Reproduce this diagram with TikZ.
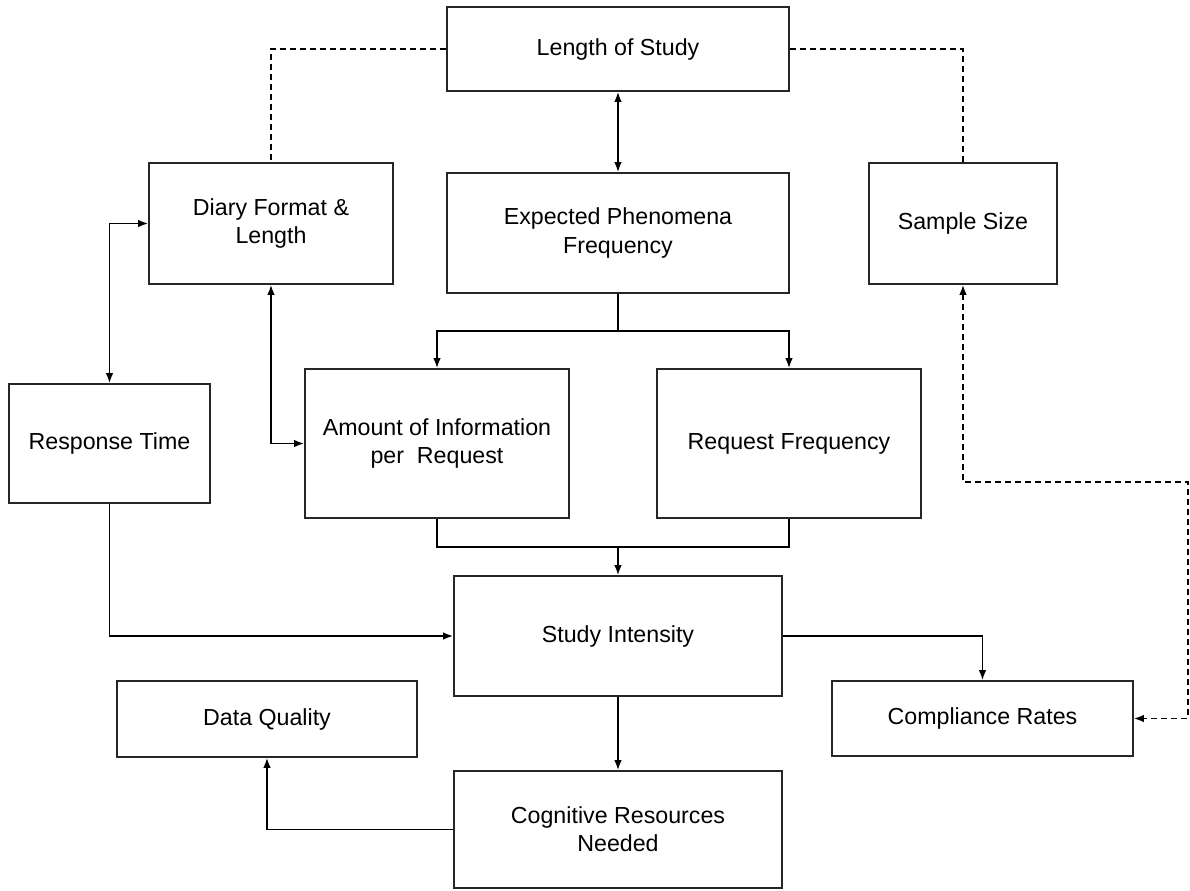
\documentclass[tikz,border=0pt]{standalone}
\usepackage{fontspec}
\setmainfont{Liberation Sans}
\usetikzlibrary{arrows.meta}

\begin{document}
\begin{tikzpicture}[x=0.01cm,y=-0.01cm,font=\fontsize{6.6}{8}\selectfont,line width=0.45pt,
  >={Latex[length=1mm,width=0.75mm]},
  box/.style={draw=black!85,align=center,inner sep=0pt},
  link/.style={dash pattern=on 0.6mm off 0.4mm}]
\useasboundingbox (0,0) rectangle (1190,890);
\node[box,minimum width=3.42cm,minimum height=0.84cm] (len) at (618,49) {Length of Study};
\node[box,minimum width=3.42cm,minimum height=1.2cm] (exp) at (618,233) {Expected Phenomena\\Frequency};
\node[box,minimum width=2.44cm,minimum height=1.21cm] (diary) at (271,223.5) {Diary Format \&\\Length};
\node[box,minimum width=1.88cm,minimum height=1.21cm] (sample) at (963,223.5) {Sample Size};
\node[box,minimum width=2.01cm,minimum height=1.19cm] (resp) at (109.5,443.5) {Response Time};
\node[box,minimum width=2.64cm,minimum height=1.49cm] (amount) at (437,443.5) {Amount of Information\\per~~Request};
\node[box,minimum width=2.64cm,minimum height=1.49cm] (req) at (789,443.5) {Request Frequency};
\node[box,minimum width=3.28cm,minimum height=1.2cm] (study) at (618,636) {Study Intensity};
\node[box,minimum width=3cm,minimum height=0.76cm] (dq) at (267,719) {Data Quality};
\node[box,minimum width=3.01cm,minimum height=0.75cm] (comp) at (982.5,718.5) {Compliance Rates};
\node[box,minimum width=3.28cm,minimum height=1.17cm] (cog) at (618,829.5) {Cognitive Resources\\Needed};
\coordinate (split) at (618,331);
\coordinate (join) at (618,547);
\coordinate (turn) at (1188,482);
\draw[<->] (len.south) -- (exp.north);
\draw[link] (len.west) -| (diary.north);
\draw[link] (len.east) -| (sample.north);
\draw[<->] (diary.west) -| (resp.north);
\draw[<->] (diary.south) |- (amount.west);
\draw (exp.south) -- (split);
\draw[->] (split) -| (amount.north);
\draw[->] (split) -| (req.north);
\draw (amount.south) |- (join);
\draw (req.south) |- (join);
\draw[->] (join) -- (study.north);
\draw[->] (resp.south) |- (study.west);
\draw[->] (study.east) -| (comp.north);
\draw[->] (study.south) -- (cog.north);
\draw[->] (cog.west) -| (dq.south);
\draw[<->,link] (sample.south) |- (turn) |- (comp.east);
\end{tikzpicture}
\end{document}
